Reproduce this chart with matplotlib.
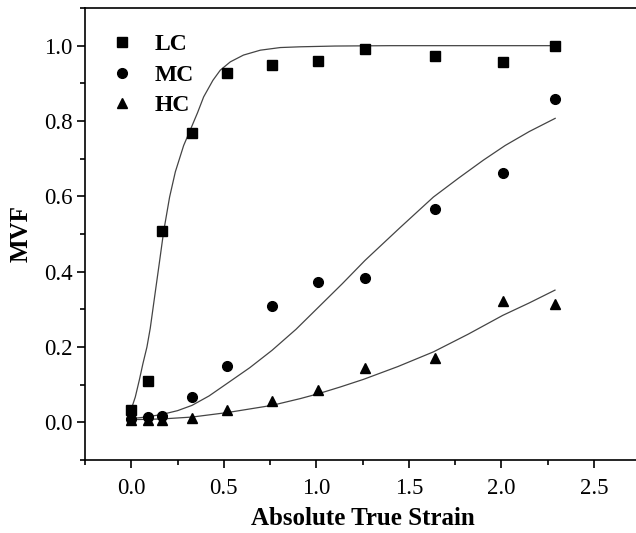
import matplotlib
matplotlib.use("Agg")
import matplotlib.pyplot as plt
from matplotlib.ticker import MultipleLocator, FormatStrFormatter

plt.rcParams['font.family'] = ['Liberation Serif', 'DejaVu Serif']

# Measured points
strain = [0.0, 0.09, 0.166, 0.326, 0.518, 0.76, 1.01, 1.26, 1.64, 2.01, 2.29]
lc = [0.032, 0.11, 0.507, 0.767, 0.928, 0.95, 0.96, 0.99, 0.972, 0.957, 0.999]
mc = [0.010, 0.013, 0.018, 0.067, 0.150, 0.309, 0.373, 0.384, 0.567, 0.663, 0.858]
hc = [0.005, 0.006, 0.007, 0.012, 0.034, 0.057, 0.085, 0.143, 0.172, 0.321, 0.315]

# Fitted curves
lc_fit_x = [0.0, 0.0216, 0.0432, 0.063, 0.0846, 0.1026, 0.126, 0.151, 0.175,
            0.207, 0.238, 0.283, 0.322, 0.358, 0.391, 0.441, 0.481, 0.535,
            0.606, 0.697, 0.805, 0.913, 1.1, 1.4, 2.29]
lc_fit_y = [0.035, 0.067, 0.1116, 0.156, 0.200, 0.250, 0.333, 0.421, 0.507,
            0.598, 0.665, 0.735, 0.780, 0.822, 0.864, 0.908, 0.935, 0.957,
            0.975, 0.988, 0.995, 0.997, 0.999, 1.0, 1.0]
mc_fit_x = [0.0, 0.08, 0.166, 0.25, 0.328, 0.42, 0.517, 0.64, 0.76, 0.89, 1.012,
            1.14, 1.263, 1.45, 1.632, 1.77, 1.902, 2.02, 2.15, 2.29]
mc_fit_y = [0.010, 0.014, 0.021, 0.031, 0.045, 0.070, 0.103, 0.145, 0.191, 0.247,
            0.306, 0.368, 0.430, 0.516, 0.598, 0.649, 0.696, 0.735, 0.772, 0.807]
hc_fit_x = [0.0, 0.166, 0.328, 0.52, 0.76, 0.913, 1.011, 1.13, 1.254, 1.44,
            1.632, 1.82, 2.007, 2.15, 2.289]
hc_fit_y = [0.007, 0.009, 0.014, 0.026, 0.045, 0.063, 0.076, 0.094, 0.114, 0.148,
            0.187, 0.234, 0.284, 0.317, 0.351]

W, H = 636, 533
fig = plt.figure(figsize=(W / 100, H / 100), dpi=100)
ax = fig.add_axes([85 / W, 1 - 460 / H, (640.3 - 85) / W, (460 - 8) / H])

line_kw = dict(color='#444444', lw=0.9)
ax.plot(lc_fit_x, lc_fit_y, **line_kw)
ax.plot(mc_fit_x, mc_fit_y, **line_kw)
ax.plot(hc_fit_x, hc_fit_y, **line_kw)

ax.plot(strain, lc, 's', color='black', ms=6.5, ls='none', label='LC')
ax.plot(strain, mc, 'o', color='black', ms=7, ls='none', label='MC')
ax.plot(strain, hc, '^', color='black', ms=7.5, ls='none', label='HC')

ax.set_xlim(-0.25, 2.75)
ax.set_ylim(-0.1, 1.1)
ax.xaxis.set_major_locator(MultipleLocator(0.5))
ax.xaxis.set_minor_locator(MultipleLocator(0.25))
ax.yaxis.set_major_locator(MultipleLocator(0.2))
ax.yaxis.set_minor_locator(MultipleLocator(0.1))
ax.xaxis.set_major_formatter(FormatStrFormatter('%.1f'))
ax.yaxis.set_major_formatter(FormatStrFormatter('%.1f'))

for s in ax.spines.values():
    s.set_linewidth(1.2)
ax.tick_params(which='both', direction='out', top=False, right=False, width=1.2)
ax.tick_params(which='major', length=6, labelsize=16.5)
ax.tick_params(axis='x', which='major', pad=7)
ax.tick_params(axis='y', which='major', pad=3)
ax.tick_params(which='minor', length=3.5)

ax.set_xlabel('Absolute True Strain', fontsize=18, fontweight='bold', labelpad=6)
ax.set_ylabel('MVF', fontsize=18, fontweight='bold', labelpad=8)

leg = ax.legend(loc='upper left', bbox_to_anchor=(0.008, 0.99), frameon=False,
                handlelength=1.0, handletextpad=0.85, labelspacing=0.38,
                prop={'size': 17, 'weight': 'bold'})

fig.savefig('out.png', dpi=100)
